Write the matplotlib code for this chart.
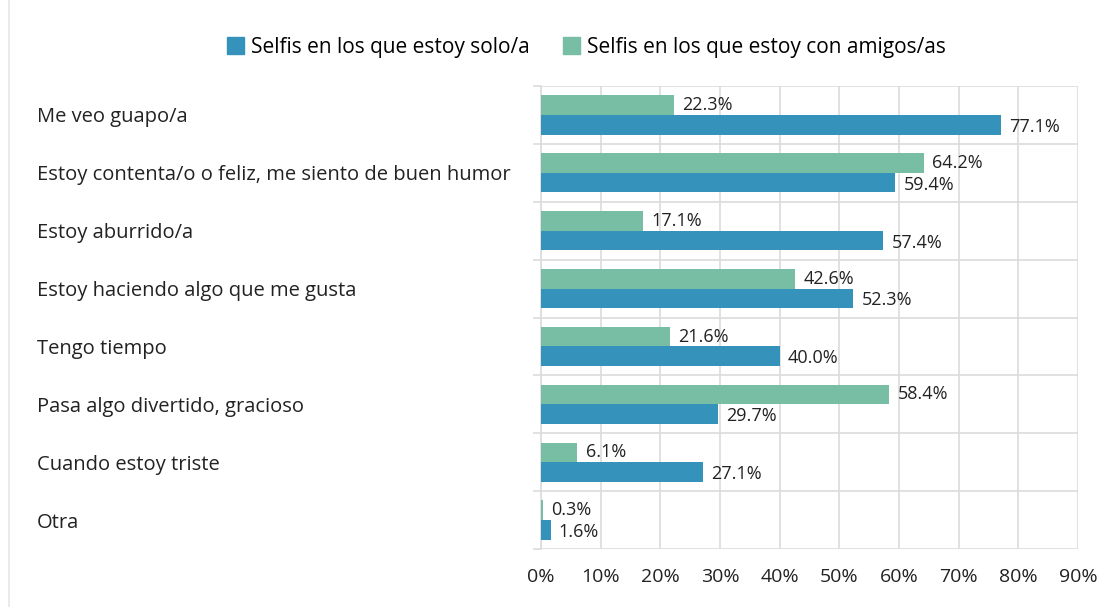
import matplotlib.pyplot as plt
import numpy as np
from matplotlib.patches import Patch
from matplotlib.lines import Line2D

#-----------------data----------------
categories = ['Me veo guapo/a',
              'Estoy contenta/o o feliz, me siento de buen humor',
              'Estoy aburrido/a',
              'Estoy haciendo algo que me gusta',
              'Tengo tiempo',
              'Pasa algo divertido, gracioso',
              'Cuando estoy triste',
              'Otra']
solo = [77.1, 59.4, 57.4, 52.3, 40.0, 29.7, 27.1, 1.6]
amigos = [22.3, 64.2, 17.1, 42.6, 21.6, 58.4, 6.1, 0.3]
series_names = ['Selfis en los que estoy solo/a', 'Selfis en los que estoy con amigos/as']
xticks = [0, 10, 20, 30, 40, 50, 60, 70, 80, 90]
#-------------------------------------

plt.rcParams['font.family'] = ['Open Sans', 'DejaVu Sans']
blue = '#3492bb'
green = '#77bea4'
txt = '#222222'
grid_c = '#dcdcdc'

fig = plt.figure(figsize=(11.02, 6.07), dpi=100)
ax = fig.add_axes([541/1102, 1-549/607, (1078-541)/1102, (549-86)/607])

y = np.arange(len(categories))
h = 0.34
ax.barh(y + h/2, solo, height=h, color=blue, zorder=3)
ax.barh(y - h/2, amigos, height=h, color=green, zorder=3)

# value labels next to the bars
for yi, v in zip(y, solo):
    ax.annotate(f'{v:.1f}%', (v, yi + h/2), xytext=(6, -1.5), textcoords='offset points',
                va='center', ha='left', fontsize=13, color=txt)
for yi, v in zip(y, amigos):
    ax.annotate(f'{v:.1f}%', (v, yi - h/2), xytext=(6, 0), textcoords='offset points',
                va='center', ha='left', fontsize=13, color=txt)

ax.set_xlim(0, 90)
ax.set_ylim(len(categories) - 0.5, -0.5)
ax.set_xticks(xticks)
ax.set_xticklabels([f'{t}%' for t in xticks], fontsize=14, color=txt)
ax.set_yticks(y)
ax.set_yticklabels(categories, fontsize=14.5, color=txt, ha='left')
ax.tick_params(axis='y', which='major', length=0, pad=(541 - 37) * 0.72)
ax.set_yticks(np.arange(len(categories) + 1) - 0.5, minor=True)
ax.tick_params(axis='y', which='minor', length=6, color=grid_c, width=1.2)
ax.tick_params(axis='x', length=0, pad=14)
ax.grid(axis='x', color=grid_c, lw=1.2, zorder=0)
ax.grid(axis='y', which='minor', color=grid_c, lw=1.2, zorder=0)
for s in ['top', 'right', 'bottom']:
    ax.spines[s].set_visible(False)
ax.spines['left'].set_color(grid_c)
ax.spines['left'].set_linewidth(1.2)

handles = [Patch(color=blue), Patch(color=green)]
fig.legend(handles, series_names, loc='center', bbox_to_anchor=(586/1102, 1-47/607),
           ncol=2, frameon=False, fontsize=15, handlelength=0.85, handleheight=0.85,
           handletextpad=0.3, columnspacing=1.6)

fig.add_artist(Line2D([9/1102, 9/1102], [0, 1], color='#e6e6e6', lw=1.2))

fig.savefig('out.png', dpi=100)
